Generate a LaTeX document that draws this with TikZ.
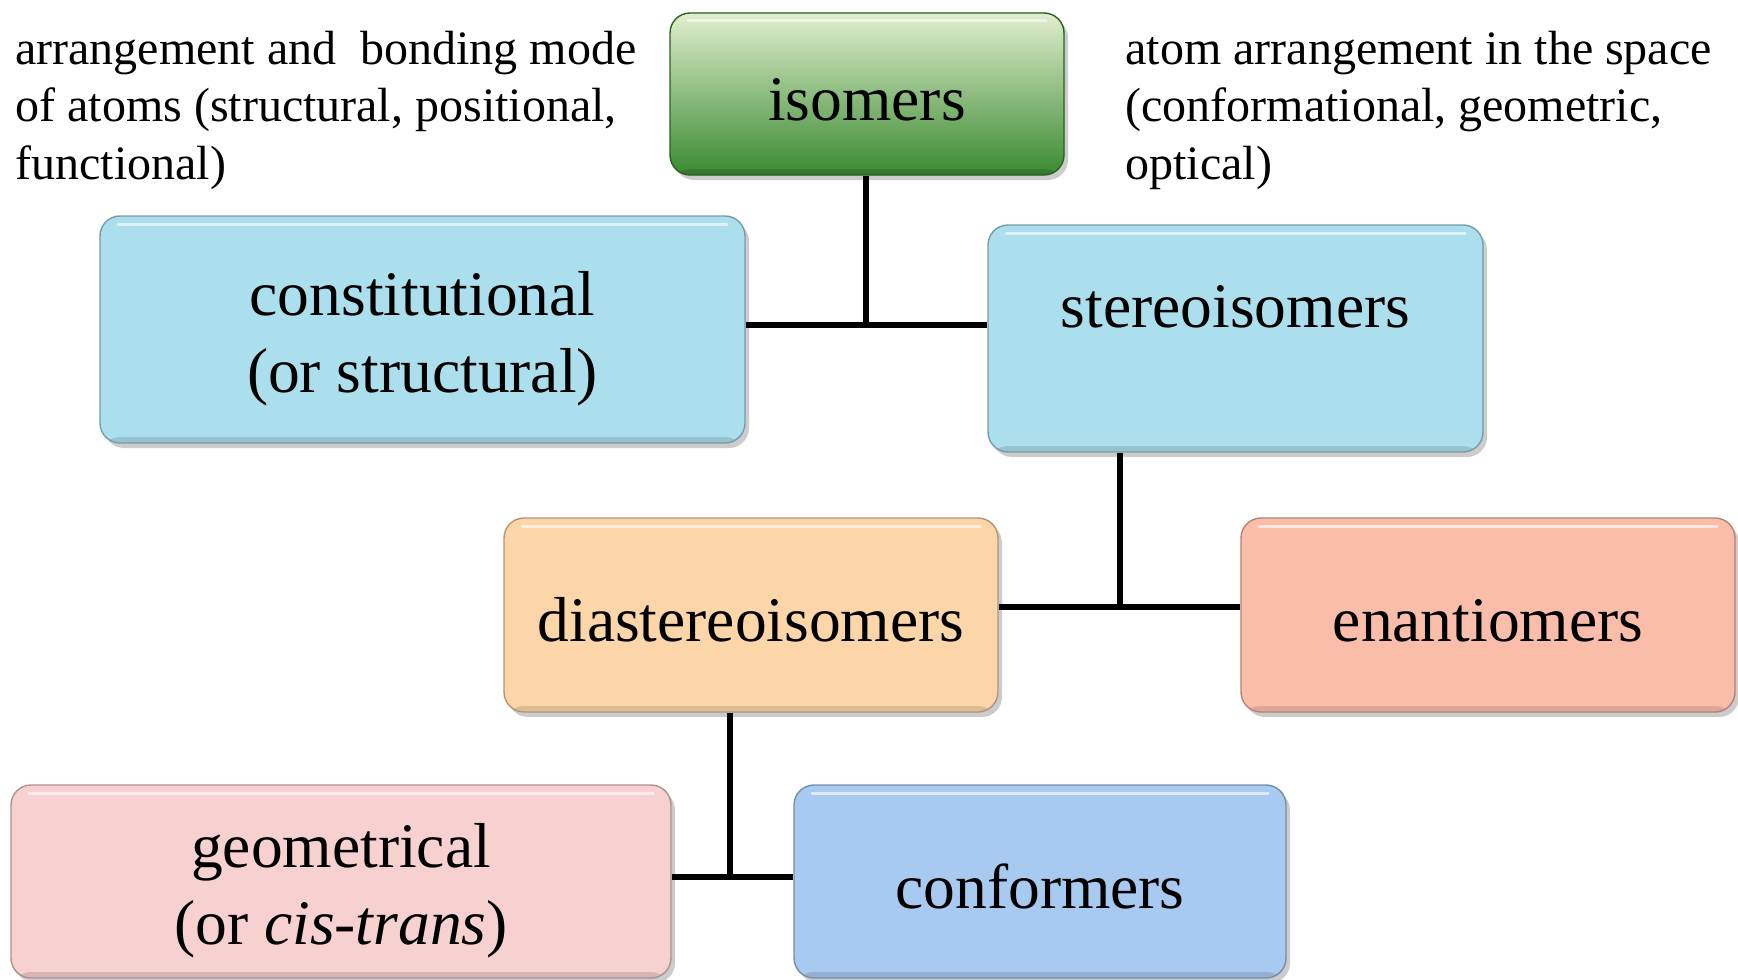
\documentclass[tikz,border=0pt]{standalone}
\usepackage{fontspec}
\setmainfont{Liberation Serif}
\usetikzlibrary{shadows}
\definecolor{grass}{RGB}{58,138,48}
\definecolor{mint}{RGB}{224,238,206}
\definecolor{sky}{RGB}{172,223,237}
\definecolor{peach}{RGB}{252,213,168}
\definecolor{salmon}{RGB}{250,189,170}
\definecolor{rose}{RGB}{247,208,208}
\definecolor{cornflower}{RGB}{168,202,240}
\newcommand{\firstline}{\rule{0pt}{31pt}}
\tikzset{
  box/.style={fill=#1,draw=#1!70!black,line width=0.7pt,rounded corners=10pt,
    align=center,inner sep=0pt,font=\fontsize{31.75}{38.3}\selectfont,
    execute at begin node={\rule{0pt}{27pt}},
    drop shadow={opacity=0.4,shadow xshift=2pt,shadow yshift=-2.5pt},
    path picture={
      \draw[white,opacity=0.6,line width=1.5pt,line cap=round]
        ([xshift=9pt,yshift=-4pt]path picture bounding box.north west) -- ([xshift=-9pt,yshift=-4pt]path picture bounding box.north east);
      \fill[black,opacity=0.12] (path picture bounding box.south west) rectangle ([yshift=3pt]path picture bounding box.south east);
    }},
  box/.default=sky,
  note/.style={anchor=north west,align=left,inner sep=0pt,font=\fontsize{24}{28.6}\selectfont},
  link/.style={draw=black,line width=3pt},
}
\begin{document}
\begin{tikzpicture}[x=0.5pt,y=-0.5pt]
  \useasboundingbox (0,0) rectangle (1738,979);
  % comments on top
  \node[note] (leftnote) at (15,31) {arrangement and\ \ bonding mode\\of atoms (structural, positional,\\functional)};
  \node[note] (rightnote) at (1125,31) {atom arrangement in the space\\(conformational, geometric,\\optical)};
  % boxes
  \node[box=grass,top color=mint,middle color=grass!60!mint,bottom color=grass,minimum width=197pt,minimum height=81pt] (iso) at (867,94) {isomers};
  \node[box,minimum width=322.5pt,minimum height=113.5pt] (con) at (422.5,329.5) {\firstline constitutional\\(or structural)};
  \node[box,minimum width=247.5pt,minimum height=113.5pt] (ster) at (1235.5,338.5) {\firstline stereoisomers\\[4pt]~};
  \node[box=peach,minimum width=247pt,minimum height=97pt] (dia) at (751,615) {diastereoisomers};
  \node[box=salmon,minimum width=247pt,minimum height=97pt] (ena) at (1488,615) {enantiomers};
  \node[box=rose,minimum width=330pt,minimum height=96.5pt] (geo) at (341,881.5) {\firstline geometrical\\(or \textit{cis-trans})};
  \node[box=cornflower,minimum width=246pt,minimum height=96.5pt] (conf) at (1040,881.5) {conformers};
  % tree lines
  \coordinate (j1) at (866,325);
  \coordinate (j2) at (1120,607);
  \coordinate (j3) at (730,877);
  \draw[link] (iso.south -| j1) -- (j1);
  \draw[link] (con.east |- j1) -- (ster.west |- j1);
  \draw[link] (ster.south -| j2) -- (j2);
  \draw[link] (dia.east |- j2) -- (ena.west |- j2);
  \draw[link] (dia.south -| j3) -- (j3);
  \draw[link] (geo.east |- j3) -- (conf.west |- j3);
\end{tikzpicture}
\end{document}
